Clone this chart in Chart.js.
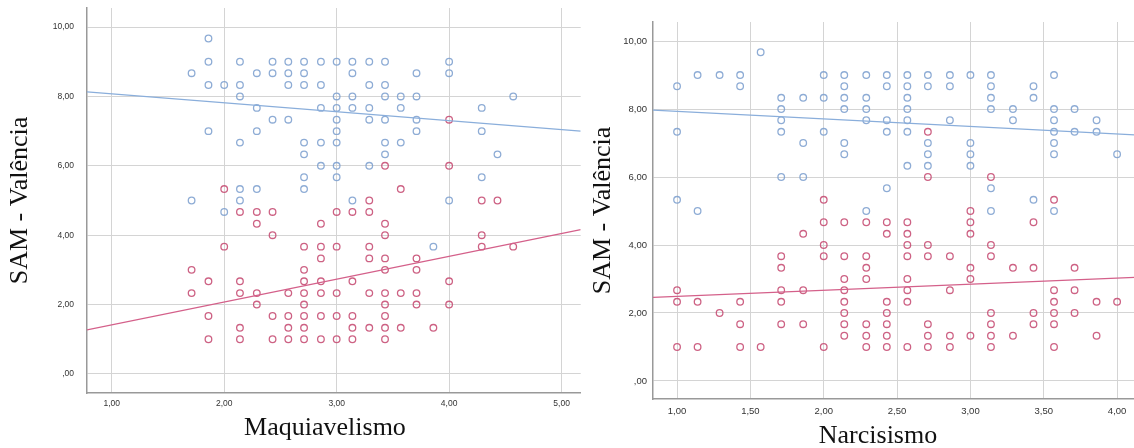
<!DOCTYPE html>
<html>
<head>
<meta charset="utf-8">
<script src="https://cdn.jsdelivr.net/npm/chart.js@4.4.0/dist/chart.umd.min.js"></script>
<style>
html, body { margin: 0; background: #fff; overflow: hidden; }
#left { position: absolute; left: 0; top: 0; width: 586px; height: 448px; }
#right { position: absolute; left: 580px; top: 0; width: 560px; height: 448px; }
.xt { position: absolute; width: 300px; text-align: center; font: 26px/26px "Liberation Serif", "Times New Roman", serif; color: #111; }
</style>
</head>
<body>
<div id="left"><canvas id="c1"></canvas></div>
<div id="right"><canvas id="c2"></canvas></div>
<div class="xt" style="left:175px; top:414px;">Maquiavelismo</div>
<div class="xt" style="left:728px; top:422px;">Narcisismo</div>
<script>
// Maquiavelismo vs SAM - Valência
var machBlue = [
  [1.86,9.67],[1.86,9],[2.14,9],[2.43,9],[2.57,9],[2.71,9],[2.86,9],[3,9],[3.14,9],[3.29,9],[3.43,9],[4,9],
  [1.71,8.67],[2.29,8.67],[2.43,8.67],[2.57,8.67],[2.71,8.67],[3.14,8.67],[3.71,8.67],[4,8.67],
  [1.86,8.33],[2,8.33],[2.14,8.33],[2.57,8.33],[2.71,8.33],[2.86,8.33],[3.29,8.33],[3.43,8.33],
  [2.14,8],[3,8],[3.14,8],[3.43,8],[3.57,8],[3.71,8],[4.57,8],
  [2.29,7.67],[2.86,7.67],[3,7.67],[3.14,7.67],[3.29,7.67],[3.57,7.67],[4.29,7.67],
  [2.43,7.33],[2.57,7.33],[3,7.33],[3.29,7.33],[3.43,7.33],[3.71,7.33],
  [1.86,7],[2.29,7],[3,7],[3.71,7],[4.29,7],
  [2.14,6.67],[2.71,6.67],[2.86,6.67],[3,6.67],[3.43,6.67],[3.57,6.67],
  [2.71,6.33],[3.43,6.33],[4.43,6.33],
  [2.86,6],[3,6],[3.29,6],
  [2.71,5.67],[3,5.67],[4.29,5.67],
  [2.14,5.33],[2.29,5.33],[2.71,5.33],
  [1.71,5],[2.14,5],[3.14,5],[4,5],
  [2,4.67],[3.86,3.67]
];
var machRed = [
  [4,7.33],[3.43,6],[4,6],[2,5.33],[3.57,5.33],[3.29,5],[4.29,5],[4.43,5],
  [2.14,4.67],[2.29,4.67],[2.43,4.67],[3,4.67],[3.14,4.67],[3.29,4.67],
  [2.29,4.33],[2.86,4.33],[3.43,4.33],
  [2.43,4],[3.43,4],[4.29,4],
  [2,3.67],[2.71,3.67],[2.86,3.67],[3,3.67],[3.29,3.67],[4.29,3.67],[4.57,3.67],
  [2.86,3.33],[3.29,3.33],[3.43,3.33],[3.71,3.33],
  [1.71,3],[2.71,3],[3.43,3],[3.71,3],
  [1.86,2.67],[2.14,2.67],[2.71,2.67],[2.86,2.67],[3.14,2.67],[4,2.67],
  [1.71,2.33],[2.14,2.33],[2.29,2.33],[2.57,2.33],[2.71,2.33],[2.86,2.33],[3,2.33],[3.29,2.33],[3.43,2.33],[3.57,2.33],[3.71,2.33],
  [2.29,2],[2.71,2],[3.43,2],[3.71,2],[4,2],
  [1.86,1.67],[2.43,1.67],[2.57,1.67],[2.71,1.67],[2.86,1.67],[3,1.67],[3.14,1.67],[3.43,1.67],
  [2.14,1.33],[2.57,1.33],[2.71,1.33],[3.14,1.33],[3.29,1.33],[3.43,1.33],[3.57,1.33],[3.86,1.33],
  [1.86,1],[2.14,1],[2.43,1],[2.57,1],[2.71,1],[2.86,1],[3,1],[3.14,1],[3.43,1]
];
var machBlueFit = [[0.78,8.13],[5.17,7.0]];
var machRedFit = [[0.78,1.27],[5.17,4.16]];

// Narcisismo vs SAM - Valência
var narcBlue = [
  [1.57,9.67],
  [1.14,9],[1.29,9],[1.43,9],[2,9],[2.14,9],[2.29,9],[2.43,9],[2.57,9],[2.71,9],[2.86,9],[3,9],[3.14,9],[3.57,9],
  [1,8.67],[1.43,8.67],[2.14,8.67],[2.43,8.67],[2.57,8.67],[2.71,8.67],[2.86,8.67],[3.14,8.67],[3.43,8.67],
  [1.71,8.33],[1.86,8.33],[2,8.33],[2.14,8.33],[2.29,8.33],[2.57,8.33],[3.14,8.33],[3.43,8.33],
  [1.71,8],[2.14,8],[2.29,8],[2.57,8],[3.14,8],[3.29,8],[3.57,8],[3.71,8],
  [1.71,7.67],[2.29,7.67],[2.43,7.67],[2.57,7.67],[2.86,7.67],[3.29,7.67],[3.57,7.67],[3.86,7.67],
  [1,7.33],[1.71,7.33],[2,7.33],[2.43,7.33],[2.57,7.33],[3.57,7.33],[3.71,7.33],[3.86,7.33],
  [1.86,7],[2.14,7],[2.71,7],[3,7],[3.57,7],
  [2.14,6.67],[2.71,6.67],[3,6.67],[3.57,6.67],[4,6.67],
  [2.57,6.33],[2.71,6.33],[3,6.33],
  [1.71,6],[1.86,6],
  [2.43,5.67],[3.14,5.67],
  [1,5.33],[3.43,5.33],
  [1.14,5],[2.29,5],[3.14,5],[3.57,5]
];
var narcRed = [
  [2.71,7.33],[2.71,6],[3.14,6],[2,5.33],[3.57,5.33],[3,5],
  [2,4.67],[2.14,4.67],[2.29,4.67],[2.43,4.67],[2.57,4.67],[3,4.67],[3.43,4.67],
  [1.86,4.33],[2.43,4.33],[2.57,4.33],[3,4.33],
  [2,4],[2.57,4],[2.71,4],[3.14,4],
  [1.71,3.67],[2,3.67],[2.14,3.67],[2.29,3.67],[2.57,3.67],[2.71,3.67],[2.86,3.67],[3.14,3.67],
  [1.71,3.33],[2.29,3.33],[3,3.33],[3.29,3.33],[3.43,3.33],[3.71,3.33],
  [2.14,3],[2.29,3],[2.57,3],[3,3],
  [1,2.67],[1.71,2.67],[1.86,2.67],[2.14,2.67],[2.57,2.67],[2.86,2.67],[3.57,2.67],[3.71,2.67],
  [1,2.33],[1.14,2.33],[1.43,2.33],[1.71,2.33],[2.14,2.33],[2.43,2.33],[2.57,2.33],[3.57,2.33],[3.86,2.33],[4,2.33],
  [1.29,2],[2.14,2],[2.43,2],[3.14,2],[3.43,2],[3.57,2],[3.71,2],
  [1.43,1.67],[1.71,1.67],[1.86,1.67],[2.14,1.67],[2.29,1.67],[2.43,1.67],[2.71,1.67],[3.14,1.67],[3.43,1.67],[3.57,1.67],
  [2.14,1.33],[2.29,1.33],[2.43,1.33],[2.71,1.33],[2.86,1.33],[3,1.33],[3.14,1.33],[3.29,1.33],[3.86,1.33],
  [1,1],[1.14,1],[1.43,1],[1.57,1],[2,1],[2.29,1],[2.43,1],[2.57,1],[2.71,1],[2.86,1],[3.14,1],[3.57,1]
];
var narcBlueFit = [[0.836,7.97],[4.12,7.24]];
var narcRedFit = [[0.836,2.46],[4.12,3.05]];

var blueCol = 'rgba(122,158,206,0.85)';
var redCol = 'rgba(196,70,110,0.85)';

function toPts(arr) {
  return arr.map(function (p) { return {x: p[0], y: p[1]}; });
}

function fmt(v) {
  if (Math.abs(v) < 1e-9) return ',00';
  return v.toFixed(2).replace('.', ',');
}

function noPad(s) {
  s.paddingLeft = 0; s.paddingRight = 0; s.paddingTop = 0; s.paddingBottom = 0;
}

function makeChart(id, o) {
  return new Chart(document.getElementById(id), {
    type: 'scatter',
    data: {
      datasets: [
        {data: toPts(o.blueFit), showLine: true, borderColor: '#8aaedb', borderWidth: 1.3, pointRadius: 0},
        {data: toPts(o.redFit), showLine: true, borderColor: '#d4608a', borderWidth: 1.3, pointRadius: 0},
        {data: toPts(o.blue), pointRadius: 3.3, borderWidth: 1.3, borderColor: blueCol, backgroundColor: 'rgba(0,0,0,0)'},
        {data: toPts(o.red), pointRadius: 3.3, borderWidth: 1.3, borderColor: redCol, backgroundColor: 'rgba(0,0,0,0)'}
      ]
    },
    options: {
      responsive: true,
      maintainAspectRatio: false,
      animation: false,
      layout: {padding: {top: o.top, right: 0, left: 0, bottom: 0}},
      plugins: {legend: {display: false}, tooltip: {enabled: false}},
      scales: {
        x: {
          type: 'linear', min: o.xMin, max: o.xMax,
          afterFit: function (s) { s.height = o.xH; noPad(s); },
          ticks: {stepSize: o.xStep, includeBounds: false, callback: fmt, padding: o.xPad,
                  color: '#333', font: {family: 'Liberation Sans, Arial', size: o.tick}},
          grid: {color: '#d4d4d4', lineWidth: 1, drawTicks: false},
          border: {display: true, color: '#999', width: 1.5}
        },
        y: {
          type: 'linear', min: o.yMin, max: o.yMax,
          afterFit: function (s) { s.width = o.yW; noPad(s); },
          ticks: {stepSize: 2, includeBounds: false, callback: fmt, padding: o.yPad,
                  color: '#333', font: {family: 'Liberation Sans, Arial', size: o.tick}},
          grid: {color: '#d4d4d4', lineWidth: 1, drawTicks: false},
          border: {display: true, color: '#999', width: 1.5},
          title: {display: true, text: 'SAM - Valência', color: '#111', padding: {top: o.yTitlePad, bottom: 0},
                  font: {family: 'Liberation Serif, Times New Roman', size: 26, lineHeight: 1}}
        }
      }
    }
  });
}

makeChart('c1', {
  blue: machBlue, red: machRed, blueFit: machBlueFit, redFit: machRedFit,
  xMin: 0.78, xMax: 5.17, xStep: 1, yMin: -0.55, yMax: 10.55,
  top: 8, xH: 55, yW: 87, xPad: 6, yPad: 13, tick: 8.5, yTitlePad: 7
});
makeChart('c2', {
  blue: narcBlue, red: narcRed, blueFit: narcBlueFit, redFit: narcRedFit,
  xMin: 0.836, xMax: 4.12, xStep: 0.5, yMin: -0.53, yMax: 10.56,
  top: 22, xH: 49, yW: 73, xPad: 7, yPad: 6, tick: 9.5, yTitlePad: 10
});
</script>
</body>
</html>
